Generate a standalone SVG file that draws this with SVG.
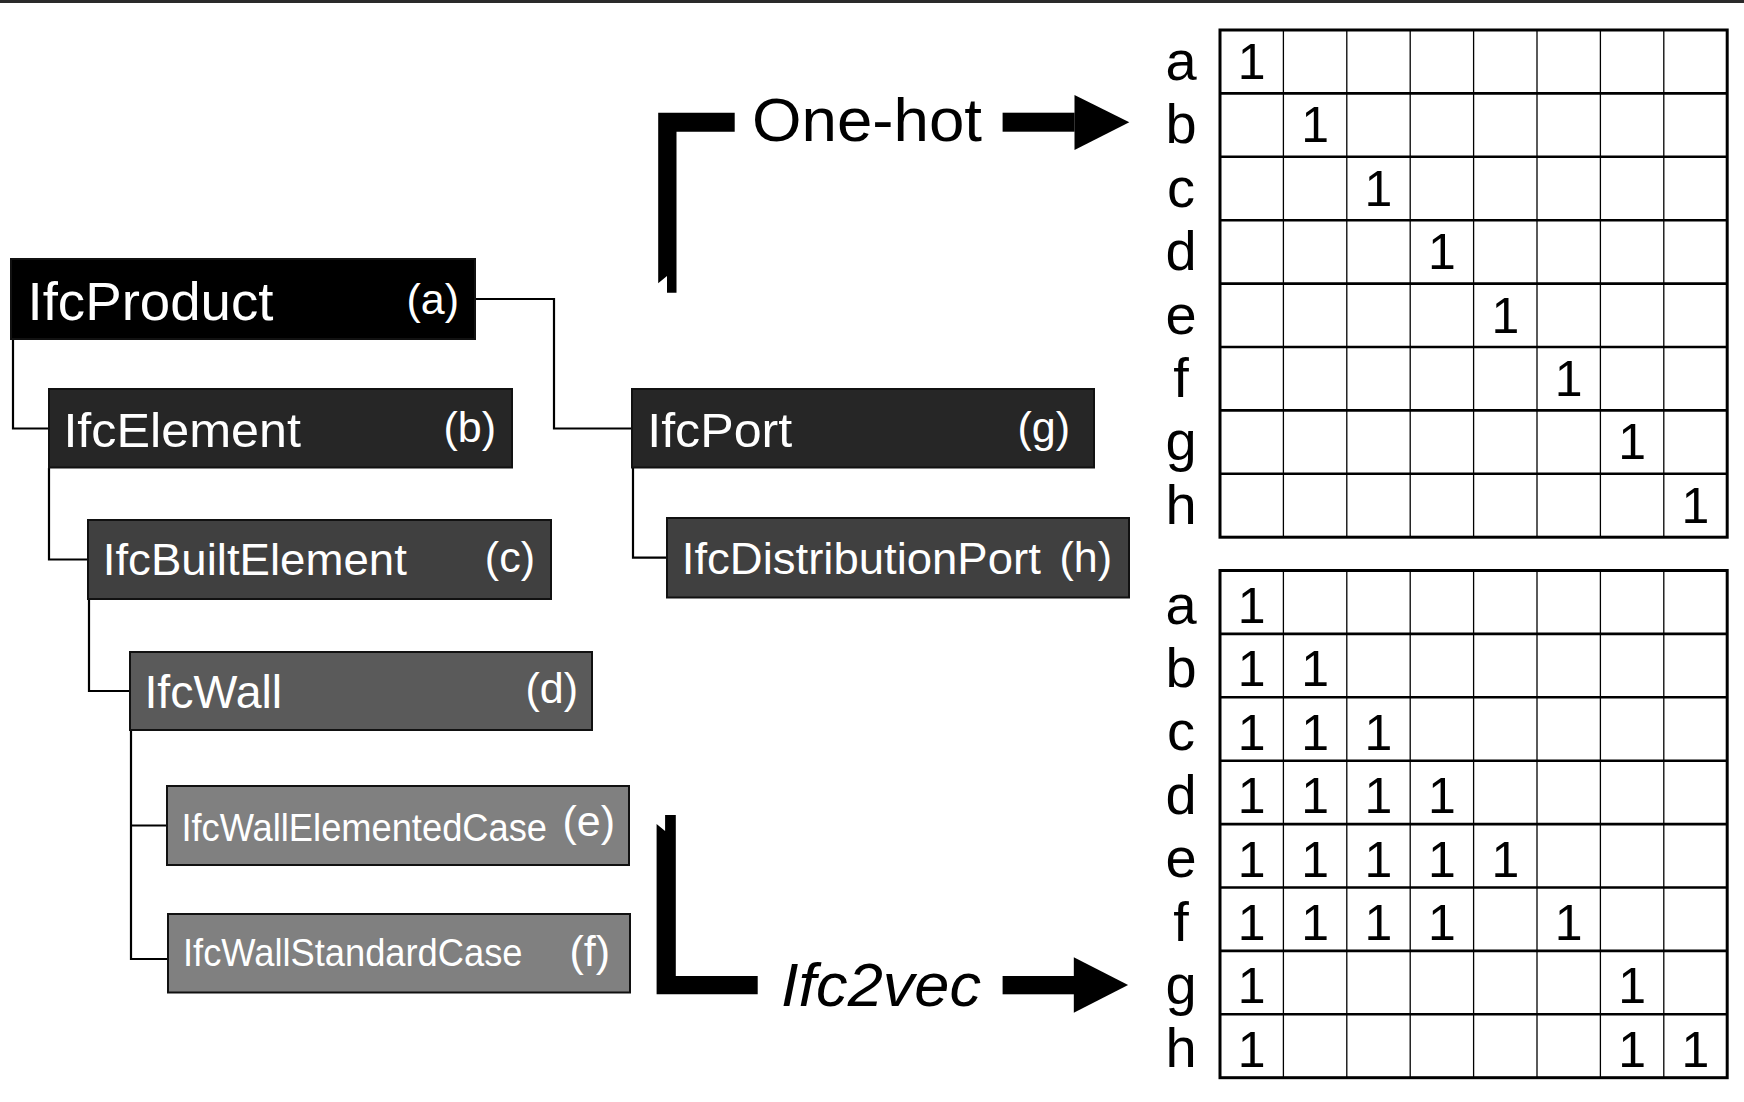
<svg xmlns="http://www.w3.org/2000/svg" width="1744" height="1102" viewBox="0 0 1744 1102">
<style>
  .box { stroke: #111; stroke-width: 2; }
  .lbl { font-family: "Liberation Sans", Arial, sans-serif; fill: #fff; }
  .tag { font-family: "Liberation Sans", Arial, sans-serif; fill: #fff; font-size: 43px; text-anchor: end; }
  .conn { fill: none; stroke: #000; stroke-width: 2.2; }
  .big { font-family: "Liberation Sans", Arial, sans-serif; fill: #000; font-size: 62px; }
  .row { font-family: "Liberation Sans", Arial, sans-serif; fill: #000; font-size: 56px; text-anchor: middle; }
  .one { font-family: "Liberation Sans", Arial, sans-serif; fill: #000; font-size: 50px; text-anchor: middle; }
  .hl { stroke: #000; stroke-width: 2.6; }
  .vl { stroke: #000; stroke-width: 1.3; }
  .frame { fill: none; stroke: #000; stroke-width: 3; }
</style>
<defs>
  <g id="gridlines">
    <line class="vl" x1="1283.4" y1="0" x2="1283.4" y2="507.2"/>
    <line class="vl" x1="1346.8" y1="0" x2="1346.8" y2="507.2"/>
    <line class="vl" x1="1410.2" y1="0" x2="1410.2" y2="507.2"/>
    <line class="vl" x1="1473.6" y1="0" x2="1473.6" y2="507.2"/>
    <line class="vl" x1="1537" y1="0" x2="1537" y2="507.2"/>
    <line class="vl" x1="1600.4" y1="0" x2="1600.4" y2="507.2"/>
    <line class="vl" x1="1663.8" y1="0" x2="1663.8" y2="507.2"/>
    <line class="hl" x1="1220" y1="63.4" x2="1727.2" y2="63.4"/>
    <line class="hl" x1="1220" y1="126.8" x2="1727.2" y2="126.8"/>
    <line class="hl" x1="1220" y1="190.2" x2="1727.2" y2="190.2"/>
    <line class="hl" x1="1220" y1="253.6" x2="1727.2" y2="253.6"/>
    <line class="hl" x1="1220" y1="317" x2="1727.2" y2="317"/>
    <line class="hl" x1="1220" y1="380.4" x2="1727.2" y2="380.4"/>
    <line class="hl" x1="1220" y1="443.8" x2="1727.2" y2="443.8"/>
    <rect class="frame" x="1220" y="0" width="507.2" height="507.2"/>
  </g>
</defs>

<rect x="0" y="0" width="1744" height="3" fill="#2a2a2a"/>

<g id="connectors">
  <polyline class="conn" points="13,339 13,428.5 49,428.5"/>
  <polyline class="conn" points="49,467.7 49,559.5 88,559.5"/>
  <polyline class="conn" points="89,599 89,691 130,691"/>
  <polyline class="conn" points="131,730 131,959 168,959"/>
  <polyline class="conn" points="131,825.5 167,825.5"/>
  <polyline class="conn" points="475,299 554,299 554,428.5 632,428.5"/>
  <polyline class="conn" points="633,467.7 633,557.7 667,557.7"/>
</g>

<g id="node-a">
  <rect class="box" x="11" y="259" width="464" height="80" fill="#000"/>
  <text class="lbl" x="27.5" y="320" font-size="54" textLength="246" lengthAdjust="spacingAndGlyphs">IfcProduct</text>
  <text class="tag" x="459" y="314">(a)</text>
</g>
<g id="node-b">
  <rect class="box" x="49" y="389" width="463" height="78.5" fill="#262626"/>
  <text class="lbl" x="63.4" y="446.7" font-size="49" textLength="237.6" lengthAdjust="spacingAndGlyphs">IfcElement</text>
  <text class="tag" x="496" y="442">(b)</text>
</g>
<g id="node-c">
  <rect class="box" x="88" y="520" width="463" height="79" fill="#404040"/>
  <text class="lbl" x="102.8" y="575" font-size="45" textLength="304" lengthAdjust="spacingAndGlyphs">IfcBuiltElement</text>
  <text class="tag" x="535" y="572">(c)</text>
</g>
<g id="node-d">
  <rect class="box" x="130" y="652" width="462" height="78" fill="#5a5a5a"/>
  <text class="lbl" x="144.4" y="708" font-size="46" textLength="137.8" lengthAdjust="spacingAndGlyphs">IfcWall</text>
  <text class="tag" x="578" y="703">(d)</text>
</g>
<g id="node-e">
  <rect class="box" x="167" y="786" width="462" height="79" fill="#808080"/>
  <text class="lbl" x="181.4" y="840.7" font-size="38" textLength="365.6" lengthAdjust="spacingAndGlyphs">IfcWallElementedCase</text>
  <text class="tag" x="615" y="836">(e)</text>
</g>
<g id="node-f">
  <rect class="box" x="168" y="914" width="462" height="78.5" fill="#808080"/>
  <text class="lbl" x="183" y="966" font-size="38" textLength="339.5" lengthAdjust="spacingAndGlyphs">IfcWallStandardCase</text>
  <text class="tag" x="610" y="966">(f)</text>
</g>
<g id="node-g">
  <rect class="box" x="632" y="389" width="462" height="78.5" fill="#262626"/>
  <text class="lbl" x="647.2" y="446.7" font-size="48" textLength="145" lengthAdjust="spacingAndGlyphs">IfcPort</text>
  <text class="tag" x="1070" y="442">(g)</text>
</g>
<g id="node-h">
  <rect class="box" x="667" y="518" width="462" height="79.5" fill="#404040"/>
  <text class="lbl" x="681.8" y="574.3" font-size="45" textLength="359" lengthAdjust="spacingAndGlyphs">IfcDistributionPort</text>
  <text class="tag" x="1112" y="572">(h)</text>
</g>

<g id="onehot">
  <polygon points="658.2,112.7 734.7,112.7 734.7,131.7 676.5,131.7 676.5,292.7 667,292.7 667,276 658.2,283.3" fill="#000"/>
  <text class="big" x="752" y="140.7" textLength="230" lengthAdjust="spacingAndGlyphs">One-hot</text>
  <rect x="1002.6" y="112.7" width="72" height="19" fill="#000"/>
  <polygon points="1074.5,95 1129.3,122.3 1074.5,150" fill="#000"/>
</g>

<g id="ifc2vec">
  <polygon points="665.1,815 675.8,815 675.8,976 757.7,976 757.7,994.3 656.6,994.3 656.6,824 665.1,831" fill="#000"/>
  <text class="big" x="781" y="1006" font-style="italic" textLength="200" lengthAdjust="spacingAndGlyphs">Ifc2vec</text>
  <rect x="1002.6" y="976" width="72" height="18.3" fill="#000"/>
  <polygon points="1073.8,957.3 1128.1,985 1073.8,1012.7" fill="#000"/>
</g>

<g id="matrix-onehot">
  <use href="#gridlines" x="0" y="30"/>
  <text class="row" x="1181" y="80">a</text>
  <text class="row" x="1181" y="143.4">b</text>
  <text class="row" x="1181" y="206.8">c</text>
  <text class="row" x="1181" y="270.2">d</text>
  <text class="row" x="1181" y="333.6">e</text>
  <text class="row" x="1181" y="397">f</text>
  <text class="row" x="1181" y="460.4">g</text>
  <text class="row" x="1181" y="523.8">h</text>
  <text class="one" x="1251.7" y="79">1</text>
  <text class="one" x="1315.1" y="142.4">1</text>
  <text class="one" x="1378.5" y="205.8">1</text>
  <text class="one" x="1441.9" y="269.2">1</text>
  <text class="one" x="1505.3" y="332.6">1</text>
  <text class="one" x="1568.7" y="396">1</text>
  <text class="one" x="1632.1" y="459.4">1</text>
  <text class="one" x="1695.5" y="522.8">1</text>
</g>

<g id="matrix-ifc2vec">
  <use href="#gridlines" x="0" y="570.5"/>
  <text class="row" x="1181" y="623.5">a</text>
  <text class="row" x="1181" y="686.9">b</text>
  <text class="row" x="1181" y="750.3">c</text>
  <text class="row" x="1181" y="813.7">d</text>
  <text class="row" x="1181" y="877.1">e</text>
  <text class="row" x="1181" y="940.5">f</text>
  <text class="row" x="1181" y="1003.9">g</text>
  <text class="row" x="1181" y="1067.3">h</text>
  <text class="one" x="1251.7" y="623">1</text>
  <text class="one" x="1251.7" y="686.4">1</text>
  <text class="one" x="1315.1" y="686.4">1</text>
  <text class="one" x="1251.7" y="749.8">1</text>
  <text class="one" x="1315.1" y="749.8">1</text>
  <text class="one" x="1378.5" y="749.8">1</text>
  <text class="one" x="1251.7" y="813.2">1</text>
  <text class="one" x="1315.1" y="813.2">1</text>
  <text class="one" x="1378.5" y="813.2">1</text>
  <text class="one" x="1441.9" y="813.2">1</text>
  <text class="one" x="1251.7" y="876.6">1</text>
  <text class="one" x="1315.1" y="876.6">1</text>
  <text class="one" x="1378.5" y="876.6">1</text>
  <text class="one" x="1441.9" y="876.6">1</text>
  <text class="one" x="1505.3" y="876.6">1</text>
  <text class="one" x="1251.7" y="940">1</text>
  <text class="one" x="1315.1" y="940">1</text>
  <text class="one" x="1378.5" y="940">1</text>
  <text class="one" x="1441.9" y="940">1</text>
  <text class="one" x="1568.7" y="940">1</text>
  <text class="one" x="1251.7" y="1003.4">1</text>
  <text class="one" x="1632.1" y="1003.4">1</text>
  <text class="one" x="1251.7" y="1066.8">1</text>
  <text class="one" x="1632.1" y="1066.8">1</text>
  <text class="one" x="1695.5" y="1066.8">1</text>
</g>
</svg>
